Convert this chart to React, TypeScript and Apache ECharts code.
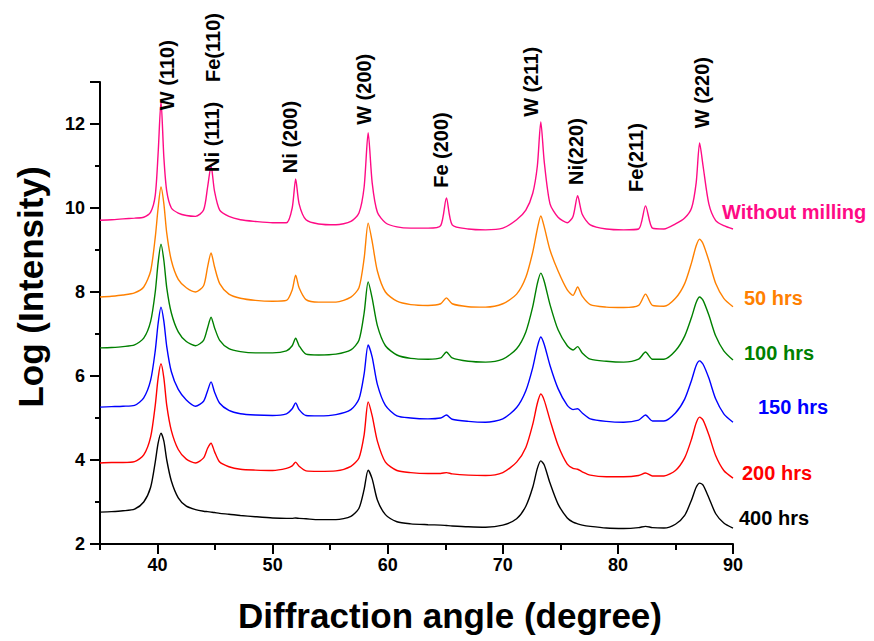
import React, { useEffect, useRef } from "react";
import * as echarts from "echarts";

// Diffraction angle (2θ, degrees) shared by all patterns
const ANGLES = [
  35, 36, 37, 38, 38.8, 39.4, 39.8, 40.05, 40.3, 40.55,
  40.8, 41.2, 41.8, 42.5, 43.3, 44.0, 44.35, 44.65, 44.95, 45.4,
  46.2, 47.2, 48.5, 50, 51.2, 51.7, 52.0, 52.3, 52.9, 54,
  55.5, 56.8, 57.5, 57.95, 58.3, 58.65, 59.1, 59.8, 60.8, 62,
  63.5, 64.6, 65.1, 65.6, 67, 68.5, 70, 71.2, 72.0, 72.6,
  73.0, 73.3, 73.6, 74.1, 74.8, 75.6, 76.1, 76.5, 76.9, 77.6,
  79, 80.5, 81.8, 82.4, 83.0, 84, 85, 85.8, 86.4, 86.8,
  87.1, 87.4, 87.9, 88.5, 89.2, 90,
];

const WITHOUT_MILLING = [
  9.71, 9.72, 9.74, 9.76, 9.78, 9.9, 10.3, 11.3, 12.55, 11.2,
  10.4, 10.0, 9.88, 9.82, 9.8, 9.95, 10.5, 11.0, 10.4, 9.95,
  9.8, 9.72, 9.68, 9.65, 9.65, 10.0, 10.69, 10.1, 9.72, 9.62,
  9.6, 9.68, 9.88, 10.5, 11.79, 10.6, 9.9, 9.65, 9.55, 9.52,
  9.52, 9.58, 10.24, 9.6, 9.5, 9.48, 9.52, 9.72, 9.95, 10.35,
  11.0, 12.05, 11.1, 10.1, 9.78, 9.65, 9.8, 10.29, 9.85, 9.6,
  9.5, 9.48, 9.5, 10.05, 9.52, 9.5, 9.62, 9.76, 10.0, 10.6,
  11.55, 11.0, 10.1, 9.7, 9.58, 9.5,
];

const HRS_50 = [
  7.88, 7.9, 7.93, 7.98, 8.12, 8.5, 9.3, 10.0, 10.5, 10.1,
  9.4, 8.75, 8.3, 8.1, 8.0, 8.15, 8.6, 8.93, 8.6, 8.2,
  7.95, 7.85, 7.8, 7.78, 7.8, 8.05, 8.4, 8.1, 7.82, 7.76,
  7.76, 7.88, 8.1, 8.8, 9.64, 9.2, 8.5, 8.0, 7.78, 7.7,
  7.68, 7.72, 7.86, 7.72, 7.65, 7.64, 7.72, 7.95, 8.35, 8.95,
  9.5, 9.81, 9.55, 9.0, 8.5, 8.05, 7.92, 8.12, 7.9, 7.7,
  7.64, 7.63, 7.68, 7.95, 7.68, 7.66, 7.85, 8.2, 8.7, 9.1,
  9.26, 9.15, 8.75, 8.2, 7.85, 7.65,
];

const HRS_100 = [
  6.67, 6.68, 6.7, 6.74, 6.9, 7.3, 8.0, 8.7, 9.14, 8.75,
  8.1, 7.5, 7.05, 6.82, 6.72, 6.85, 7.15, 7.4, 7.15, 6.85,
  6.65, 6.58, 6.55, 6.55, 6.6, 6.72, 6.9, 6.72, 6.52, 6.5,
  6.52, 6.62, 6.85, 7.5, 8.24, 7.85, 7.2, 6.72, 6.5, 6.42,
  6.4, 6.43, 6.57, 6.43, 6.35, 6.33, 6.4, 6.65, 7.05, 7.65,
  8.2, 8.45, 8.25, 7.7, 7.1, 6.72, 6.62, 6.7, 6.55, 6.4,
  6.35, 6.33, 6.4, 6.57, 6.4, 6.4, 6.6, 6.95, 7.4, 7.75,
  7.88, 7.8, 7.45, 6.95, 6.6, 6.38,
];

const HRS_150 = [
  5.26, 5.27, 5.28, 5.3, 5.48, 5.9, 6.6, 7.25, 7.64, 7.3,
  6.7, 6.1, 5.68, 5.43, 5.28, 5.4, 5.65, 5.86, 5.62, 5.35,
  5.18, 5.1, 5.07, 5.06, 5.1, 5.22, 5.36, 5.2, 5.06, 5.05,
  5.08, 5.2, 5.45, 6.05, 6.74, 6.45, 5.8, 5.3, 5.05, 5.0,
  4.98, 5.0, 5.07, 4.97, 4.92, 4.9, 4.98, 5.25, 5.65, 6.2,
  6.7, 6.93, 6.75, 6.25, 5.7, 5.3, 5.2, 5.22, 5.12, 4.98,
  4.92, 4.9, 4.95, 5.07, 4.93, 4.93, 5.12, 5.45, 5.9, 6.25,
  6.36, 6.28, 5.95, 5.45, 5.1, 4.9,
];

const HRS_200 = [
  3.93, 3.94, 3.94, 3.96, 4.12, 4.55, 5.3, 5.95, 6.29, 5.95,
  5.3, 4.7, 4.25, 4.02, 3.93, 4.05, 4.28, 4.4, 4.2, 3.95,
  3.84, 3.78, 3.76, 3.75, 3.8, 3.86, 3.95, 3.85, 3.74, 3.73,
  3.74, 3.85, 4.05, 4.6, 5.38, 5.05, 4.45, 3.95, 3.75, 3.7,
  3.68, 3.68, 3.7, 3.67, 3.64, 3.63, 3.7, 3.95, 4.3, 4.85,
  5.35, 5.57, 5.42, 4.95, 4.35, 3.9, 3.8, 3.78, 3.72, 3.64,
  3.6, 3.6, 3.63, 3.69, 3.62, 3.62, 3.75, 4.05, 4.5, 4.88,
  5.02, 4.95, 4.6, 4.1, 3.75, 3.57,
];

const HRS_400 = [
  2.76, 2.77, 2.79, 2.83, 3.0, 3.35, 3.95, 4.4, 4.64, 4.45,
  4.0, 3.5, 3.1, 2.9, 2.82, 2.78, 2.77, 2.76, 2.75, 2.73,
  2.71, 2.68, 2.65, 2.62, 2.61, 2.61, 2.62, 2.61, 2.6, 2.58,
  2.58, 2.66, 2.85, 3.3, 3.76, 3.55, 3.05, 2.7, 2.53, 2.48,
  2.46, 2.45, 2.44, 2.43, 2.41, 2.4, 2.45, 2.6, 2.9, 3.35,
  3.8, 3.98, 3.88, 3.45, 2.95, 2.62, 2.52, 2.48, 2.45, 2.42,
  2.38, 2.37, 2.39, 2.42, 2.39, 2.38, 2.47, 2.68, 3.05, 3.35,
  3.45, 3.4, 3.1, 2.72, 2.5, 2.38,
];

const SERIES_NAMES = ["Without milling", "50 hrs", "100 hrs", "150 hrs", "200 hrs", "400 hrs"];
const SERIES_VALUES = [WITHOUT_MILLING, HRS_50, HRS_100, HRS_150, HRS_200, HRS_400];

// Peak annotations: text, anchor angle, anchor (bottom of text) in log-intensity units
const PEAK_LABELS = ["W (110)", "Ni (111)", "Fe(110)", "Ni (200)", "W (200)", "Fe (200)", "W (211)", "Ni(220)", "Fe(211)", "W (220)"];
const PEAK_LABEL_ANGLE = [40.83, 44.75, 44.83, 51.54, 57.98, 64.59, 72.42, 76.34, 81.56, 87.3];
const PEAK_LABEL_BASE = [12.33, 10.86, 13.0, 10.83, 11.98, 10.48, 12.17, 10.55, 10.38, 11.9];

const X_MAJOR_TICKS = [40, 50, 60, 70, 80, 90];

// styling
const COLORS = ["#ff0a85", "#ff8000", "#008000", "#0000ff", "#ff0000", "#000000"];
const NAME_POS = [
  [722, 212],
  [744, 298],
  [744, 353],
  [758, 407],
  [742, 473],
  [739, 518],
];
const FONT = "'Liberation Sans', Arial, sans-serif";

export default function App() {
  const ref = useRef<HTMLDivElement>(null);

  useEffect(() => {
    document.body.style.margin = "0";
    if (!ref.current) return;
    const chart = echarts.init(ref.current, undefined, { renderer: "svg" });

    const series = SERIES_VALUES.map((vals, i) => ({
      type: "line",
      name: SERIES_NAMES[i],
      data: ANGLES.map((a, j) => [a, vals[j]]),
      showSymbol: false,
      smooth: 0.25,
      lineStyle: { color: COLORS[i], width: 1.4 },
      itemStyle: { color: COLORS[i] },
      z: 10 - i,
    }));

    chart.setOption({
      animation: false,
      backgroundColor: "#ffffff",
      grid: { left: 100, top: 82, right: 141, bottom: 97, containLabel: false },
      xAxis: [
        {
          type: "value",
          min: 35,
          max: 90,
          interval: 5,
          axisLine: { show: true, onZero: false, lineStyle: { color: "#000", width: 2 } },
          axisTick: { show: true, length: 6, lineStyle: { color: "#000", width: 2 } },
          axisLabel: {
            margin: 12,
            fontSize: 18,
            fontWeight: "bold",
            color: "#000",
            fontFamily: FONT,
            formatter: (v: number) => (v % 10 === 0 ? String(v) : ""),
          },
          splitLine: { show: false },
        },
        {
          type: "value",
          min: 35,
          max: 90,
          position: "bottom",
          axisLine: { show: false },
          axisTick: { show: true, length: 10, customValues: X_MAJOR_TICKS, lineStyle: { color: "#000", width: 2 } },
          axisLabel: { show: false },
          splitLine: { show: false },
        },
      ],
      yAxis: {
        type: "value",
        min: 2,
        max: 13,
        interval: 2,
        axisLine: { show: true, onZero: false, lineStyle: { color: "#000", width: 2 } },
        axisTick: { show: true, length: 10, lineStyle: { color: "#000", width: 2 } },
        minorTick: { show: true, splitNumber: 2, length: 5, lineStyle: { color: "#000", width: 2 } },
        axisLabel: {
          margin: 15,
          fontSize: 18,
          fontWeight: "bold",
          color: "#000",
          fontFamily: FONT,
          showMaxLabel: false,
          formatter: (v: number) => (v % 2 === 0 ? String(v) : ""),
        },
        splitLine: { show: false },
      },
      series,
    });

    const graphics: any[] = [];
    PEAK_LABELS.forEach((t, i) => {
      const p = chart.convertToPixel({ xAxisIndex: 0, yAxisIndex: 0 }, [PEAK_LABEL_ANGLE[i], PEAK_LABEL_BASE[i]]) as number[];
      graphics.push({
        type: "text",
        x: p[0],
        y: p[1],
        rotation: Math.PI / 2,
        style: {
          text: t,
          fill: "#000",
          font: `bold 20px ${FONT}`,
          align: "left",
          verticalAlign: "middle",
        },
        z: 100,
      });
    });
    SERIES_NAMES.forEach((n, i) => {
      graphics.push({
        type: "text",
        x: NAME_POS[i][0],
        y: NAME_POS[i][1],
        style: { text: n, fill: COLORS[i], font: `bold 20px ${FONT}`, align: "left", verticalAlign: "middle" },
        z: 100,
      });
    });
    graphics.push({
      type: "text",
      x: 30,
      y: 287,
      rotation: Math.PI / 2,
      style: { text: "Log (Intensity)", fill: "#000", font: `bold 35px ${FONT}`, align: "center", verticalAlign: "middle" },
      z: 100,
    });
    graphics.push({
      type: "text",
      x: 450,
      y: 615,
      style: { text: "Diffraction angle (degree)", fill: "#000", font: `bold 35px ${FONT}`, align: "center", verticalAlign: "middle" },
      z: 100,
    });

    chart.setOption({ graphic: graphics });

    return () => chart.dispose();
  }, []);

  return <div ref={ref} style={{ width: 874, height: 641 }} />;
}
